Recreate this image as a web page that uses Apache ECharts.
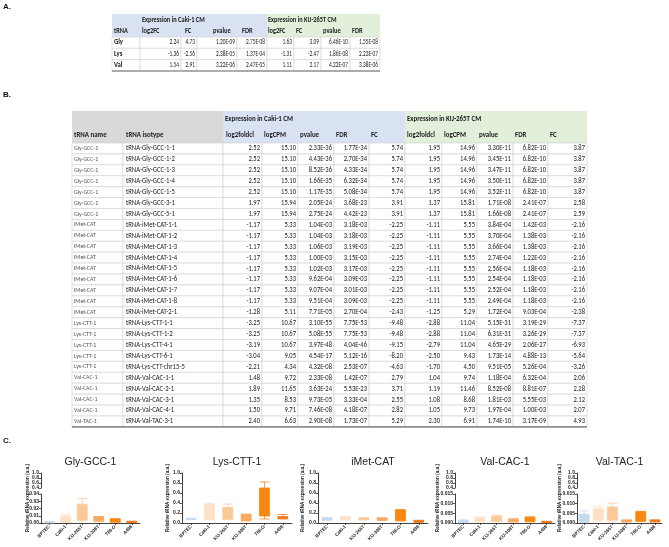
<!DOCTYPE html>
<html><head><meta charset="utf-8">
<script src="https://cdn.jsdelivr.net/npm/echarts@6/dist/echarts.min.js"></script>
<style>html,body{margin:0;padding:0;background:#fff}#c{width:669px;height:547px}</style>
</head><body><div id="c"></div>
<script>
// ---------------- DATA ----------------
// Table A
const aGroupHeaders = ['Expression in Caki-1 CM', 'Expression in KIJ-265T CM'];
const aColumnHeaders = ['tRNA', 'log2FC', 'FC', 'pvalue', 'FDR', 'log2FC', 'FC', 'pvalue', 'FDR'];
const aTRNA = ['Gly', 'Lys', 'Val'];
const aCakiLog2FC = [2.24, -1.36, 1.54];
const aCakiFC = [4.73, -2.56, 2.91];
const aCakiP = [1.20e-9, 2.38e-5, 3.22e-6];
const aCakiFDR = [2.75e-8, 1.37e-4, 2.47e-5];
const aKijLog2FC = [1.63, -1.31, 1.11];
const aKijFC = [3.09, -2.47, 2.17];
const aKijP = [6.46e-10, 1.86e-8, 4.22e-7];
const aKijFDR = [1.55e-8, 2.23e-7, 3.38e-6];

// Table B
const bGroupHeaders = ['Expression in Caki-1 CM', 'Expression in KIJ-265T CM'];
const bColumnHeaders = ['tRNA name', 'tRNA isotype', 'log2foldcl', 'logCPM', 'pvalue', 'FDR', 'FC', 'log2foldcl', 'logCPM', 'pvalue', 'FDR', 'FC'];
const bName = ['Gly-GCC-1','Gly-GCC-1','Gly-GCC-1','Gly-GCC-1','Gly-GCC-1','Gly-GCC-1','Gly-GCC-1',
  'iMet-CAT','iMet-CAT','iMet-CAT','iMet-CAT','iMet-CAT','iMet-CAT','iMet-CAT','iMet-CAT','iMet-CAT',
  'Lys-CTT-1','Lys-CTT-1','Lys-CTT-1','Lys-CTT-1','Lys-CTT-1',
  'Val-CAC-1','Val-CAC-1','Val-CAC-1','Val-CAC-1','Val-TAC-1'];
const bIsotype = ['tRNA-Gly-GCC-1-1','tRNA-Gly-GCC-1-2','tRNA-Gly-GCC-1-3','tRNA-Gly-GCC-1-4','tRNA-Gly-GCC-1-5','tRNA-Gly-GCC-3-1','tRNA-Gly-GCC-5-1',
  'tRNA-iMet-CAT-1-1','tRNA-iMet-CAT-1-2','tRNA-iMet-CAT-1-3','tRNA-iMet-CAT-1-4','tRNA-iMet-CAT-1-5','tRNA-iMet-CAT-1-6','tRNA-iMet-CAT-1-7','tRNA-iMet-CAT-1-8','tRNA-iMet-CAT-2-1',
  'tRNA-Lys-CTT-1-1','tRNA-Lys-CTT-1-2','tRNA-Lys-CTT-4-1','tRNA-Lys-CTT-6-1','tRNA-Lys-CTT-chr15-5',
  'tRNA-Val-CAC-1-1','tRNA-Val-CAC-2-1','tRNA-Val-CAC-3-1','tRNA-Val-CAC-4-1','tRNA-Val-TAC-3-1'];
const bCakiLog2 = [2.52,2.52,2.52,2.52,2.52,1.97,1.97,-1.17,-1.17,-1.17,-1.17,-1.17,-1.17,-1.17,-1.17,-1.28,-3.25,-3.25,-3.19,-3.04,-2.21,1.48,1.89,1.35,1.50,2.40];
const bCakiLogCPM = [15.10,15.10,15.10,15.10,15.10,15.94,15.94,5.33,5.33,5.33,5.33,5.33,5.33,5.33,5.33,5.11,10.67,10.67,10.67,9.05,4.34,9.72,11.65,8.53,9.71,6.63];
const bCakiP = [2.33e-36,4.43e-36,8.52e-36,1.66e-35,1.17e-35,2.05e-24,2.75e-24,1.04e-3,1.04e-3,1.06e-3,1.00e-3,1.02e-3,9.62e-4,9.07e-4,9.51e-4,7.71e-5,3.10e-55,5.08e-55,3.97e-48,4.54e-17,4.32e-8,2.33e-8,3.63e-24,9.73e-5,7.46e-8,2.90e-8];
const bCakiFDR = [1.77e-34,2.70e-34,4.33e-34,6.32e-34,5.08e-34,3.68e-23,4.42e-23,3.18e-3,3.18e-3,3.19e-3,3.15e-3,3.17e-3,3.09e-3,3.01e-3,3.09e-3,2.70e-4,7.75e-53,7.75e-53,4.04e-46,5.12e-16,2.53e-7,1.42e-7,5.53e-23,3.33e-4,4.18e-7,1.73e-7];
const bCakiFC = [5.74,5.74,5.74,5.74,5.74,3.91,3.91,-2.25,-2.25,-2.25,-2.25,-2.25,-2.25,-2.25,-2.25,-2.43,-9.48,-9.48,-9.15,-8.20,-4.63,2.79,3.71,2.55,2.82,5.29];
const bKijLog2 = [1.95,1.95,1.95,1.95,1.95,1.37,1.37,-1.11,-1.11,-1.11,-1.11,-1.11,-1.11,-1.11,-1.11,-1.25,-2.88,-2.88,-2.79,-2.50,-1.70,1.04,1.19,1.08,1.05,2.30];
const bKijLogCPM = [14.96,14.96,14.96,14.96,14.96,15.81,15.81,5.55,5.55,5.55,5.55,5.55,5.55,5.55,5.55,5.29,11.04,11.04,11.04,9.43,4.50,9.74,11.46,8.68,9.73,6.91];
const bKijP = [3.30e-11,3.45e-11,3.47e-11,3.50e-11,3.52e-11,1.71e-8,1.66e-8,3.84e-4,3.70e-4,3.66e-4,2.74e-4,2.56e-4,2.54e-4,2.52e-4,2.49e-4,1.72e-4,5.15e-31,6.31e-31,4.65e-29,1.73e-14,9.51e-5,1.18e-4,8.52e-8,1.81e-3,1.97e-4,1.74e-10];
const bKijFDR = [6.82e-10,6.82e-10,6.82e-10,6.82e-10,6.82e-10,2.41e-7,2.41e-7,1.42e-3,1.38e-3,1.38e-3,1.22e-3,1.18e-3,1.18e-3,1.18e-3,1.18e-3,9.03e-4,3.19e-29,3.26e-29,2.06e-27,4.88e-13,5.26e-4,6.32e-4,8.81e-7,5.55e-3,1.00e-3,3.17e-9];
const bKijFC = [3.87,3.87,3.87,3.87,3.87,2.58,2.59,-2.16,-2.16,-2.16,-2.16,-2.16,-2.16,-2.16,-2.16,-2.38,-7.37,-7.37,-6.93,-5.64,-3.26,2.06,2.28,2.12,2.07,4.93];

// Panel C: box data [min, q1, median, q3, max] per cell line
const cellLines = ['BPTEC', 'Caki-1', 'KIJ-265T', 'KIJ-308T', '786-O', 'A498'];
const glyGCC1 = [[0.0003,0.0005,0.001,0.0018,0.002],[0.0008,0.001,0.006,0.0095,0.012],[0.003,0.004,0.014,0.026,0.034],[0.002,0.003,0.006,0.0085,0.009],[0.001,0.0015,0.004,0.0055,0.006],[0.0005,0.0008,0.0015,0.0022,0.0025]];
const lysCTT1 = [[0.07,0.075,0.085,0.09,0.095],[0.07,0.08,0.2,0.38,0.39],[0.07,0.08,0.2,0.31,0.38],[0.04,0.05,0.12,0.17,0.18],[0.08,0.14,0.4,0.70,0.82],[0.08,0.09,0.11,0.13,0.17]];
const iMetCAT = [[0.05,0.06,0.08,0.10,0.11],[0.06,0.07,0.10,0.12,0.13],[0.06,0.07,0.09,0.10,0.11],[0.05,0.06,0.08,0.10,0.105],[0.04,0.05,0.15,0.26,0.27],[0.01,0.02,0.035,0.05,0.055]];
const valCAC1 = [[0.0002,0.0004,0.0009,0.0014,0.0016],[0.0005,0.0007,0.002,0.0028,0.003],[0.0008,0.001,0.0025,0.0035,0.004],[0.0005,0.0007,0.0014,0.002,0.0022],[0.0006,0.0008,0.002,0.003,0.0032],[0.0002,0.0003,0.0006,0.0008,0.0009]];
const valTAC1 = [[0.0003,0.0005,0.003,0.0045,0.0063],[0.001,0.0015,0.005,0.0075,0.0087],[0.001,0.0015,0.005,0.0083,0.0103],[0.0005,0.0007,0.0011,0.0015,0.0016],[0.0008,0.001,0.004,0.0058,0.006],[0.0005,0.0007,0.0011,0.0015,0.0016]];
const yTitle = 'Relative tRNA expression (a.u.)';

// ---------------- STYLE / LAYOUT ----------------
const FONT = 'Carlito, Lato, sans-serif';
const ARIAL = '"Liberation Sans", Arial, sans-serif';
const BLUE = '#d9e2f3', GREEN = '#e2efda', GRAY = '#d9d9d9', GRID = '#d0d0d0';
const barColors = ['#c5daf0', '#fde1c6', '#fbc998', '#f9a85e', '#f7880f', '#f07a1e'];

const TA = { left: 112, top: 14,
  colEdges: [0, 28, 69, 85, 125, 155, 182, 209, 238, 268],
  rowEdges: [0, 12, 23, 34.3, 45.6, 57],
  headerX: [2, 2, 4, 16, 5, 1, 2, 2, 2] };
const TB = { left: 72, top: 111,
  colEdges: [0, 51, 151, 190, 226, 262, 297, 333, 370, 405, 441, 476, 515],
  rowEdges: [0, 16, 32], rowH: 10.92,
  headerX: [2, 3, 3, 2, 2, 2, 2, 2, 2, 2, 2, 2] };
for (let i = 1; i <= bName.length; i++) TB.rowEdges.push(32 + i * TB.rowH);

const panelX = [
  { yt: 30, ax: 41, r: 140 },
  { yt: 170, ax: 182, r: 292 },
  { yt: 305, ax: 318, r: 428 },
  { yt: 440, ax: 455, r: 555 },
  { yt: 562, ax: 577, r: 662 }
];
const PY = { title: 462, top: 473, brk: 488, low: 494, bottom: 523 };

// ---------------- helpers ----------------
function f2(v) { return v.toFixed(2); }
function fE(v) {
  const parts = v.toExponential(2).split('e');
  const n = parseInt(parts[1], 10);
  return parts[0] + 'E' + (n < 0 ? '-' : '+') + String(Math.abs(n)).padStart(2, '0');
}

const grids = [], xAxes = [], yAxes = [], series = [], graphics = [];

function addTable(tbl, cells) {
  const gi = grids.length;
  const W = tbl.colEdges[tbl.colEdges.length - 1];
  const H = tbl.rowEdges[tbl.rowEdges.length - 1];
  grids.push({ left: tbl.left, top: tbl.top, width: W, height: H });
  xAxes.push({ gridIndex: gi, type: 'value', min: 0, max: W, show: false });
  yAxes.push({ gridIndex: gi, type: 'value', min: 0, max: H, inverse: true, show: false });
  series.push({
    type: 'custom', xAxisIndex: gi, yAxisIndex: gi, silent: true, animation: false, clip: false,
    data: cells.map(c => [c.c0, c.r]),
    renderItem: function (params, api) {
      const c = cells[params.dataIndex];
      const p0 = api.coord([tbl.colEdges[c.c0], tbl.rowEdges[c.r]]);
      const p1 = api.coord([tbl.colEdges[c.c1 + 1], tbl.rowEdges[c.r + 1]]);
      const ch = [];
      ch.push({ type: 'rect', z2: 0,
        shape: { x: p0[0], y: p0[1], width: p1[0] - p0[0], height: p1[1] - p0[1] },
        style: { fill: c.fill || '#fff', stroke: c.stroke || null, lineWidth: c.stroke ? 0.6 : 0 } });
      if (c.bottom) {
        ch.push({ type: 'line', z2: 5, shape: { x1: p0[0], y1: p1[1], x2: p1[0], y2: p1[1] },
          style: { stroke: c.bottom, lineWidth: 1.6 } });
      }
      if (c.text !== undefined && c.text !== '') {
        const x = c.align === 'right' ? p1[0] - 2 : p0[0] + (c.dx || 2);
        ch.push({ type: 'text', z2: 10, x: x, y: (p0[1] + p1[1]) / 2, scaleX: c.sx || 1,
          style: { text: c.text, fill: c.color, font: c.font, align: c.align || 'left', verticalAlign: 'middle' } });
      }
      return { type: 'group', children: ch };
    }
  });
}

// ---- Table A cells ----
(function () {
  const cells = [];
  const hFont = 'bold 7.4px ' + FONT;
  for (let r = 0; r < 2; r++) {
    for (let c = 0; c < 9; c++) {
      const cell = { c0: c, c1: c, r: r, fill: c <= 4 ? BLUE : GREEN, color: '#1a1a1a', font: hFont, sx: 0.86 };
      if (r === 0 && c === 1) { cell.text = aGroupHeaders[0]; }
      if (r === 0 && c === 5) { cell.text = aGroupHeaders[1]; cell.dx = 1; }
      if (r === 1) { cell.text = aColumnHeaders[c]; cell.dx = TA.headerX[c]; }
      cells.push(cell);
    }
  }
  const cols = [aCakiLog2FC.map(f2), aCakiFC.map(f2), aCakiP.map(fE), aCakiFDR.map(fE),
                aKijLog2FC.map(f2), aKijFC.map(f2), aKijP.map(fE), aKijFDR.map(fE)];
  for (let i = 0; i < aTRNA.length; i++) {
    const r = i + 2;
    const last = i === aTRNA.length - 1;
    cells.push({ c0: 0, c1: 0, r: r, stroke: GRID, text: aTRNA[i], color: '#1a1a1a', font: 'bold 7.4px ' + FONT, sx: 0.9, bottom: last ? '#9a9a9a' : null });
    for (let k = 0; k < 8; k++) {
      cells.push({ c0: k + 1, c1: k + 1, r: r, stroke: GRID, text: cols[k][i], align: 'right', color: '#222', font: '7.4px ' + FONT, sx: 0.72, bottom: last ? '#9a9a9a' : null });
    }
  }
  addTable(TA, cells);
})();

// ---- Table B cells ----
(function () {
  const cells = [];
  const hFont = 'bold 8px ' + FONT;
  for (let r = 0; r < 2; r++) {
    for (let c = 0; c < 12; c++) {
      const cell = { c0: c, c1: c, r: r, fill: c <= 1 ? GRAY : (c <= 6 ? BLUE : GREEN), color: '#1a1a1a', font: hFont, sx: 0.86 };
      if (r === 0 && c === 2) cell.text = bGroupHeaders[0];
      if (r === 0 && c === 7) cell.text = bGroupHeaders[1];
      if (r === 1) { cell.text = bColumnHeaders[c]; cell.dx = TB.headerX[c]; }
      cells.push(cell);
    }
  }
  const cols = [bCakiLog2.map(f2), bCakiLogCPM.map(f2), bCakiP.map(fE), bCakiFDR.map(fE), bCakiFC.map(f2),
                bKijLog2.map(f2), bKijLogCPM.map(f2), bKijP.map(fE), bKijFDR.map(fE), bKijFC.map(f2)];
  for (let i = 0; i < bName.length; i++) {
    const r = i + 2;
    const last = i === bName.length - 1;
    const bl = last ? '#8f8f8f' : null;
    cells.push({ c0: 0, c1: 0, r: r, stroke: GRID, text: bName[i], color: '#555', font: '6.4px ' + FONT, sx: 0.92, bottom: bl });
    cells.push({ c0: 1, c1: 1, r: r, stroke: GRID, text: bIsotype[i], color: '#222', font: '7.6px ' + FONT, sx: 0.88, dx: 3, bottom: bl });
    for (let k = 0; k < 10; k++) {
      cells.push({ c0: k + 2, c1: k + 2, r: r, stroke: GRID, text: cols[k][i], align: 'right', color: '#222', font: '7.8px ' + FONT, sx: 0.84, bottom: bl });
    }
  }
  addTable(TB, cells);
})();

// ---- Panels C ----
const panelDefs = [
  { title: 'Gly-GCC-1', data: glyGCC1, broken: true, lowMax: 0.04, lowInt: 0.01, dec: 2 },
  { title: 'Lys-CTT-1', data: lysCTT1, broken: false },
  { title: 'iMet-CAT', data: iMetCAT, broken: false },
  { title: 'Val-CAC-1', data: valCAC1, broken: true, lowMax: 0.015, lowInt: 0.005, dec: 3 },
  { title: 'Val-TAC-1', data: valTAC1, broken: true, lowMax: 0.015, lowInt: 0.005, dec: 3 }
];
const axLine = { show: true, lineStyle: { color: '#111', width: 0.8 } };
const axTick = { show: true, length: 2, lineStyle: { color: '#111', width: 0.7 } };
function yLab(dec) { return { fontSize: 5, fontWeight: 'bold', color: '#222', margin: 2, fontFamily: ARIAL, formatter: v => v.toFixed(dec) }; }

panelDefs.forEach((p, k) => {
  const L = panelX[k];
  const w = L.r - L.ax;
  let gi = grids.length;
  grids.push({ left: L.ax, top: PY.top, width: 1, height: PY.bottom - PY.top });
  xAxes.push({ gridIndex: gi, type: 'value', min: 0, max: 1, show: false });
  yAxes.push({ gridIndex: gi, type: 'value', min: 0, max: 1, name: yTitle, nameLocation: 'middle', nameGap: L.ax - L.yt, nameRotate: 90,
    nameTextStyle: { fontSize: 4.6, fontWeight: 'bold', color: '#222', fontFamily: ARIAL },
    axisLine: { show: false }, axisTick: { show: false }, axisLabel: { show: false }, splitLine: { show: false } });

  let lowTop = PY.top, lowMax = 1, lowInt = 0.2, dec = 1;
  if (p.broken) {
    gi = grids.length;
    grids.push({ left: L.ax, top: PY.top, width: w, height: PY.brk - PY.top });
    xAxes.push({ gridIndex: gi, type: 'category', data: cellLines, show: false });
    yAxes.push({ gridIndex: gi, type: 'value', min: 0.4, max: 1.0, interval: 0.2, axisLine: axLine, axisTick: axTick, axisLabel: yLab(1), splitLine: { show: false } });
    lowTop = PY.low; lowMax = p.lowMax; lowInt = p.lowInt; dec = p.dec;
  }
  gi = grids.length;
  grids.push({ left: L.ax, top: lowTop, width: w, height: PY.bottom - lowTop });
  xAxes.push({ gridIndex: gi, type: 'category', data: cellLines, axisLine: axLine,
    axisTick: { show: true, length: 2, alignWithLabel: true, lineStyle: { color: '#111', width: 0.7 } },
    axisLabel: { interval: 0, rotate: 45, fontSize: 4.6, fontWeight: 'bold', color: '#222', margin: 3, fontFamily: ARIAL } });
  yAxes.push({ gridIndex: gi, type: 'value', min: 0, max: lowMax, interval: lowInt, axisLine: axLine, axisTick: axTick, axisLabel: yLab(dec), splitLine: { show: false } });
  series.push({ type: 'boxplot', xAxisIndex: gi, yAxisIndex: gi, silent: true, animation: false, boxWidth: [10, 10],
    data: p.data.map((v, i) => ({ value: v, itemStyle: { color: barColors[i], borderColor: barColors[i], borderWidth: 0.8 } })) });

  graphics.push({ type: 'text', x: L.ax + w / 2, y: PY.title, style: { text: p.title, font: '10.5px ' + ARIAL, fill: '#222', align: 'center', verticalAlign: 'middle' } });
});

graphics.push({ type: 'text', x: 3, y: 7, style: { text: 'A.', font: 'bold 8px ' + ARIAL, fill: '#111', verticalAlign: 'middle' } });
graphics.push({ type: 'text', x: 3, y: 95, style: { text: 'B.', font: 'bold 8px ' + ARIAL, fill: '#111', verticalAlign: 'middle' } });
graphics.push({ type: 'text', x: 3, y: 441, style: { text: 'C.', font: 'bold 8px ' + ARIAL, fill: '#111', verticalAlign: 'middle' } });

const chart = echarts.init(document.getElementById('c'), null, { renderer: 'canvas' });
chart.setOption({
  animation: false,
  backgroundColor: '#fff',
  grid: grids, xAxis: xAxes, yAxis: yAxes, series: series,
  graphic: { elements: graphics }
});
</script>
</body></html>
